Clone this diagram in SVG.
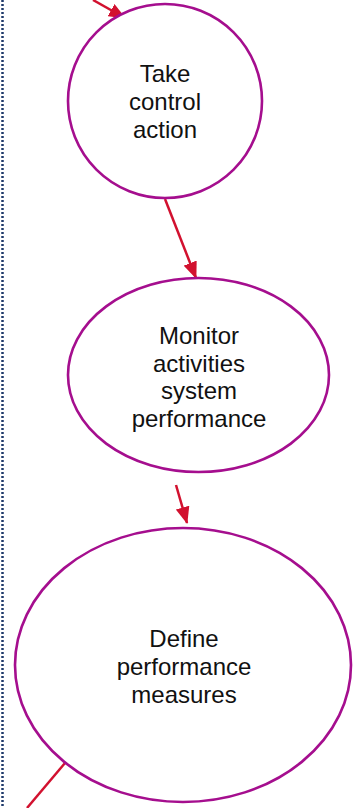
<svg xmlns="http://www.w3.org/2000/svg" width="359" height="808" viewBox="0 0 359 808">
<defs>
<marker id="ah" markerWidth="17" markerHeight="14" refX="16" refY="7" orient="auto" markerUnits="userSpaceOnUse" viewBox="0 0 17 14">
<path d="M0,0 L17,7 L0,14 z" fill="#D2112F"/>
</marker>
<style>
.node{fill:#fff;stroke:#A50E8E;stroke-width:2.6}
.lbl{font-family:"Liberation Sans",Arial,sans-serif;font-size:24px;fill:#111;text-anchor:middle}
.edge{stroke:#D2112F;stroke-width:2.5;fill:none}
</style>
</defs>
<rect width="359" height="808" fill="#fff"/>
<line x1="2.5" y1="0" x2="2.5" y2="808" stroke="#1F3A6B" stroke-width="2.5" stroke-dasharray="2 2"/>
<g id="connectors">
<line class="edge" x1="93" y1="0" x2="125" y2="18" marker-end="url(#ah)"/>
<line class="edge" x1="165" y1="199" x2="196" y2="278" marker-end="url(#ah)"/>
<line class="edge" x1="176" y1="485" x2="187" y2="523" marker-end="url(#ah)"/>
<line class="edge" x1="65" y1="763" x2="27" y2="808"/>
</g>
<g id="node-take-control-action">
<ellipse class="node" cx="165" cy="101" rx="97" ry="97"/>
<text class="lbl" x="165" y="82">Take</text>
<text class="lbl" x="165" y="110">control</text>
<text class="lbl" x="165" y="138">action</text>
</g>
<g id="node-monitor">
<ellipse class="node" cx="198.5" cy="375" rx="130.5" ry="97"/>
<text class="lbl" x="199" y="344">Monitor</text>
<text class="lbl" x="199" y="371.5">activities</text>
<text class="lbl" x="199" y="399">system</text>
<text class="lbl" x="199" y="426.5">performance</text>
</g>
<g id="node-define">
<ellipse class="node" cx="183" cy="665" rx="168" ry="137"/>
<text class="lbl" x="184" y="647">Define</text>
<text class="lbl" x="184" y="675">performance</text>
<text class="lbl" x="184" y="703">measures</text>
</g>
</svg>
